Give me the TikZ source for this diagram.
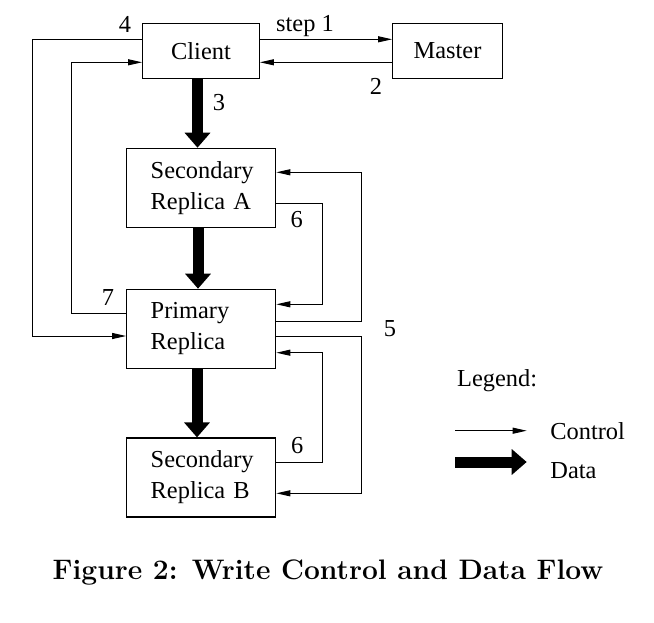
\documentclass[tikz,border=0pt]{standalone}
\usepackage{fontspec}
\newfontfamily\tms{Liberation Serif}
\usetikzlibrary{arrows.meta}
\begin{document}
\begin{tikzpicture}[x=0.5pt,y=-0.5pt,
 box/.style={draw, line width=0.6pt, font=\tms\fontsize{12.2}{15.5}\selectfont, inner sep=0pt},
 rbox/.style={box, minimum width=74.5pt, minimum height=39.5pt, text width=50.5pt, align=left, inner xsep=12pt},
 ctl/.style={line width=0.5pt, -{Triangle[length=7pt,width=3pt]}},
 dat/.style={line width=5.5pt, -{Triangle[length=7.5pt,width=12.5pt]}},
 lbl/.style={font=\tms\fontsize{12.2}{15}\selectfont, inner sep=0pt, anchor=base}]
\useasboundingbox (0,0) rectangle (654,622);
% boxes
\node[box, minimum width=58.3pt, minimum height=27.5pt] (client) at (201,50.7) {Client};
\node[box, minimum width=54.8pt, minimum height=27.5pt] (master) at (447.5,50.7) {Master};
\node[rbox] (secA) at (201.2,187.8) {Secondary\\Replica A};
\node[rbox] (prim) at (201.2,328.8) {Primary\\Replica};
\node[rbox] (secB) at (201.2,477.5) {Secondary\\Replica B};
% client <-> master
\draw[ctl] (client.east |- 0,39.3) -- (master.west |- 0,39.3);
\draw[ctl] (master.west |- 0,62.3) -- (client.east |- 0,62.3);
% 4 and 7
\draw[ctl] (client.west |- 0,39.3) -- (32.7,39.3) |- (prim.west |- 0,336);
\draw[ctl] (prim.west |- 0,313.3) -- (71.7,313.3) |- (client.west |- 0,62.3);
% data flow
\draw[dat] (client.south -| 197.5,0) -- (secA.north -| 197.5,0);
\draw[dat] (secA.south -| 198,0) -- (prim.north -| 198,0);
\draw[dat] (prim.south -| 197,0) -- (secB.north -| 197,0);
% 5 and 6
\draw[ctl] (prim.east |- 0,321.7) -- (361,321.7) |- (secA.east |- 0,172.3);
\draw[ctl] (prim.east |- 0,336) -- (361,336) |- (secB.east |- 0,493.3);
\draw[ctl] (secA.east |- 0,203.3) -- (322.3,203.3) |- (prim.east |- 0,304.3);
\draw[ctl] (secB.east |- 0,462.3) -- (322.3,462.3) |- (prim.east |- 0,352.7);
% labels
\node[lbl] (l4) at (125,32) {4};
\node[lbl] (l1) at (305,31.7) {step 1};
\node[lbl] (l2) at (376,94) {2};
\node[lbl] (l3) at (219,110.7) {3};
\node[lbl] (l7) at (108,305) {7};
\node[lbl] (l6a) at (296.7,227.3) {6};
\node[lbl] (l5) at (390,336) {5};
\node[lbl] (l6b) at (297.3,453.3) {6};
% legend
\node[lbl, anchor=base west] (leg) at (456.7,386) {Legend:};
\coordinate (c1) at (455,430.7);
\coordinate (c2) at (526.7,430.7);
\draw[ctl] (c1) -- (c2);
\node[lbl, anchor=base west] (lc) at (550,439.3) {Control};
\coordinate (d1) at (455,462);
\coordinate (d2) at (526.7,462);
\draw[dat] (d1) -- (d2);
\node[lbl, anchor=base west] (ld) at (550,478.3) {Data};
% caption
\node[font=\bfseries\fontsize{14.1}{16}\selectfont, inner sep=0pt] (cap) at (328,572.5) {Figure 2: Write Control and Data Flow};
\end{tikzpicture}
\end{document}
